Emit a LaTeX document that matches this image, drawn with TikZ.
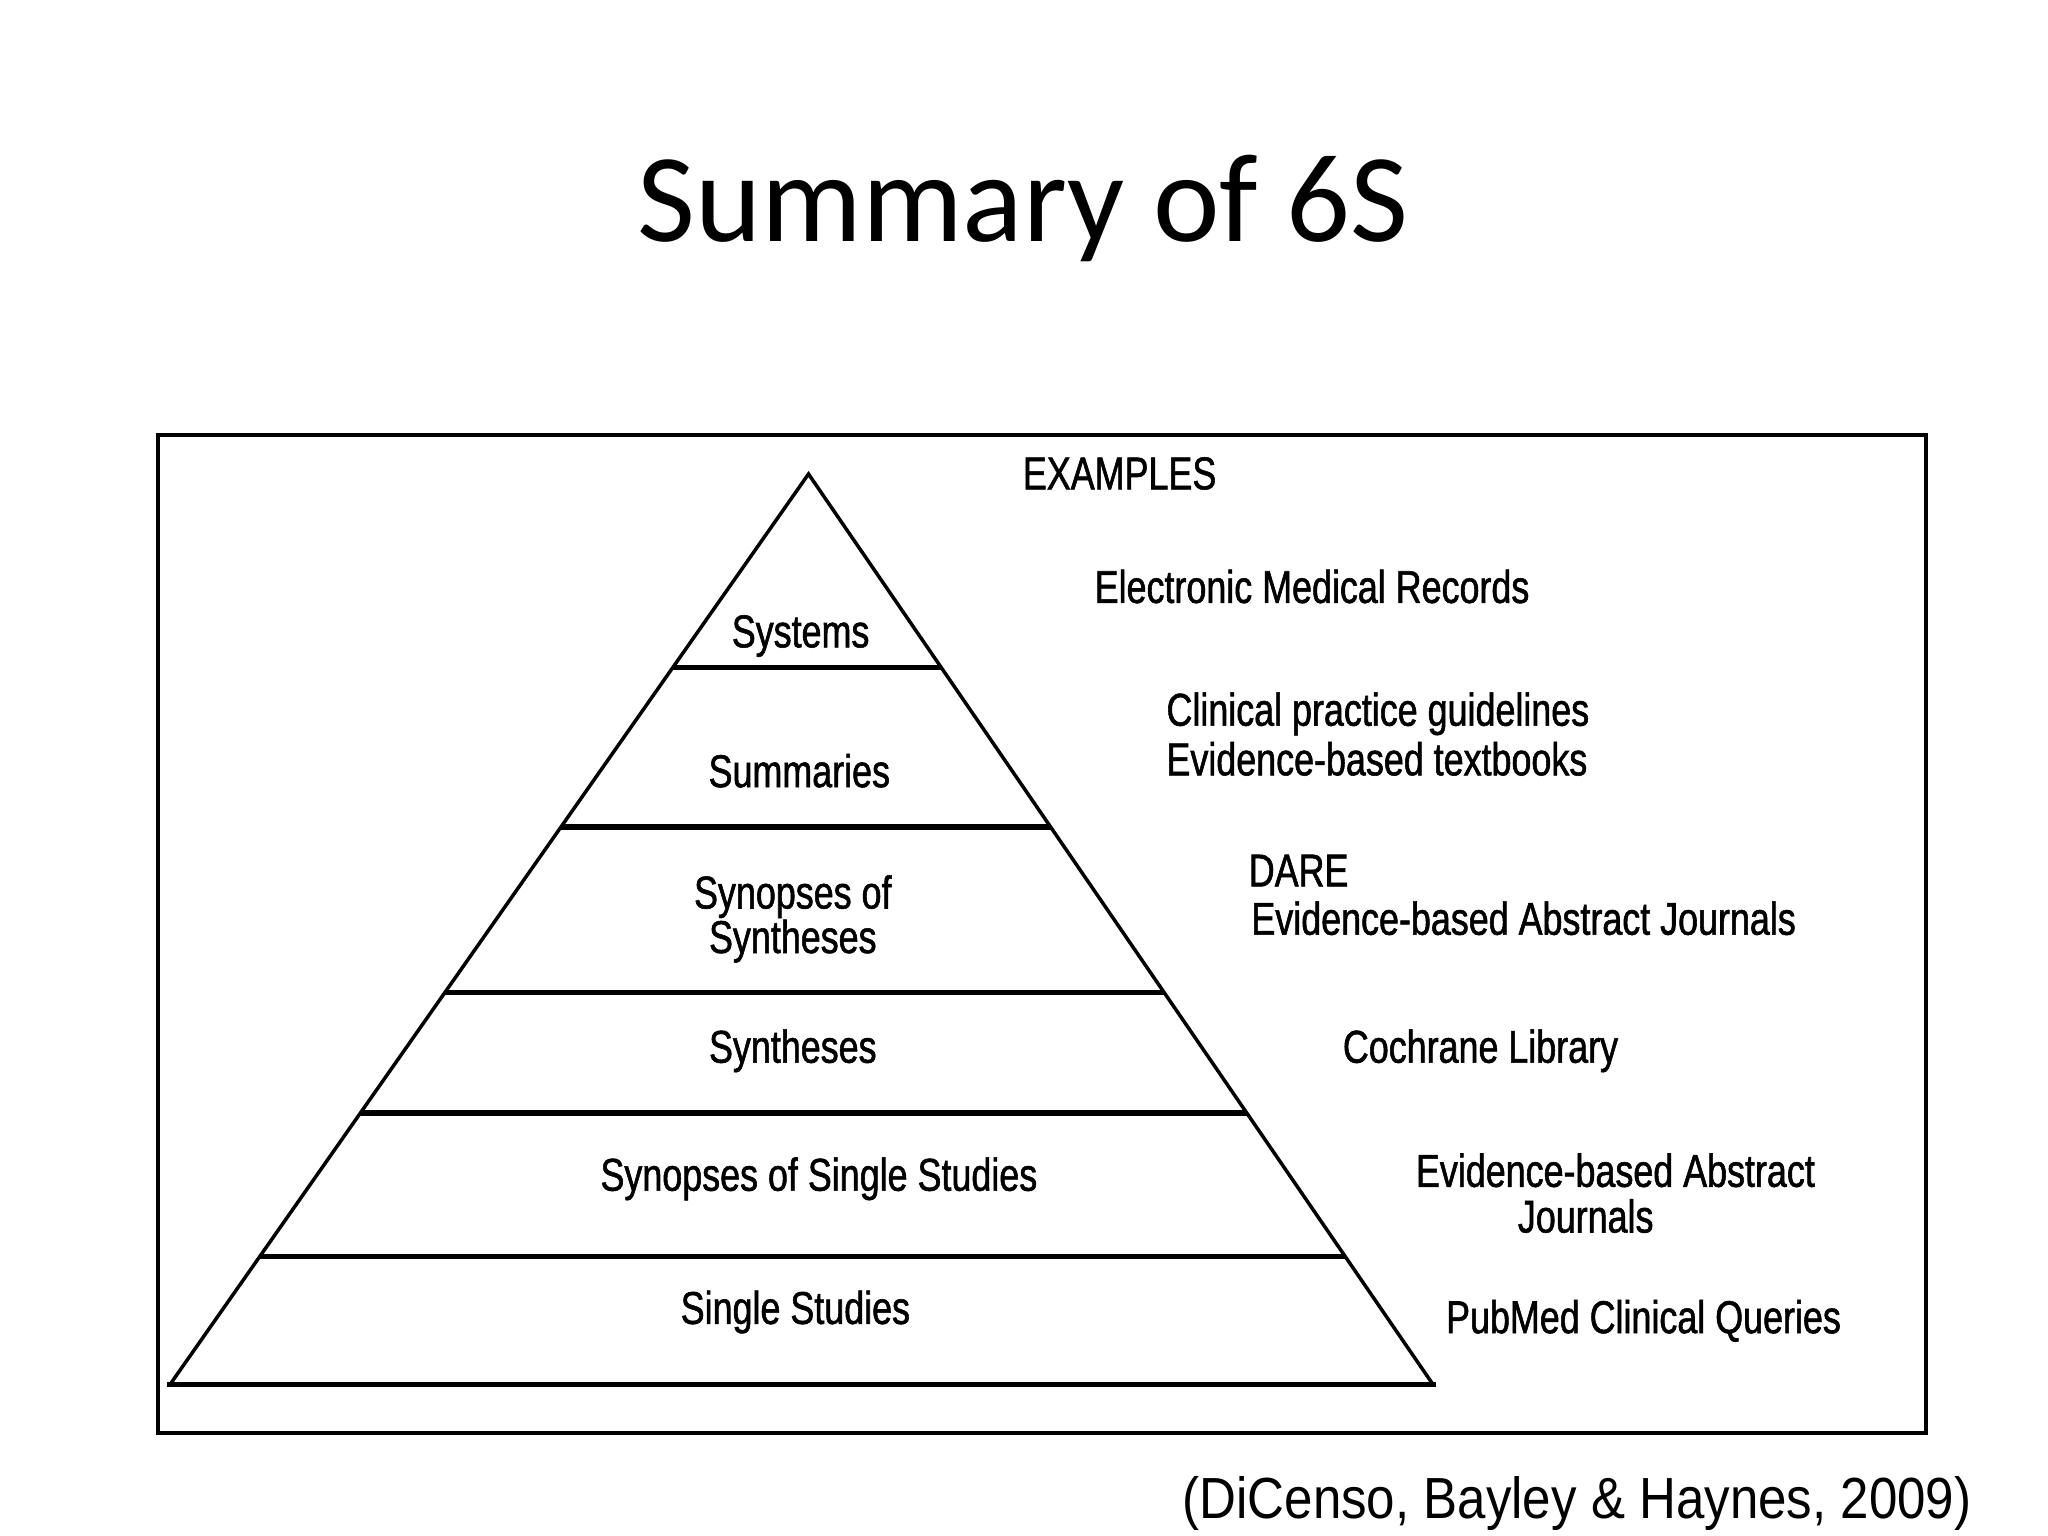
\documentclass[tikz,border=0pt]{standalone}
\usepackage{fontspec}
\setmainfont{Carlito}
\newfontfamily\narrowfont[FakeStretch=0.78,FakeBold=1.2]{Liberation Sans}
\newfontfamily\citefont[FakeStretch=0.88]{Liberation Sans}
\usetikzlibrary{calc}
\begin{document}
\begin{tikzpicture}[x=1pt,y=-1pt,
  lbl/.style={inner sep=0pt,text height=33pt,text depth=0pt,font=\narrowfont\fontsize{46}{50}\selectfont},
  lblw/.style={lbl,anchor=west},
  tier/.style={line width=5.5pt},
  side/.style={line width=3.5pt,line join=miter}]
\useasboundingbox (0,0) rectangle (2048,1536);
\fill[white] (0,0) rectangle (2048,1536);
% title
\node[inner sep=0pt,text height=81pt,text depth=0pt,font=\fontsize{126}{134}\selectfont] (title) at (1023,200.5) {Summary of 6S};
% frame
\draw[line width=4pt] (158,435) rectangle (1926,1433);
% pyramid
\coordinate (apex) at (808.5,474);
\coordinate (bl) at (170,1384.5);
\coordinate (br) at (1433,1384.5);
\draw[side] (bl) -- (apex) -- (br);
\draw[tier,line cap=rect] (bl) -- (br);
\foreach \t/\n in {0.2124/a,0.3875/b,0.5696/c,0.7016/d,0.8594/e}{
  \coordinate (l\n) at ($(apex)!\t!(bl)$);
  \coordinate (r\n) at ($(apex)!\t!(br)$);
  \draw[tier] (l\n) -- (r\n);
}
% tier labels
\node[lbl] (systems) at (800.6,630.8) {Systems};
\node[lbl] (summaries) at (799.3,770.6) {Summaries};
\node[lbl] (synsyn1) at (792.8,892) {Synopses of};
\node[lbl] (synsyn2) at (792.8,936.5) {Syntheses};
\node[lbl] (syntheses) at (792.8,1046.2) {Syntheses};
\node[lbl] (synsingle) at (818.9,1174.2) {Synopses of Single Studies};
\node[lbl] (single) at (795.4,1307.4) {Single Studies};
% examples
\node[lblw] (examples) at (1022.7,472.8) {EXAMPLES};
\node[lblw] (emr) at (1094.5,586.4) {Electronic Medical Records};
\node[lblw] (cpg) at (1166.3,709.2) {Clinical practice guidelines};
\node[lblw] (ebt) at (1166.3,758.8) {Evidence-based textbooks};
\node[lblw] (dare) at (1248.6,869.9) {DARE};
\node[lblw] (ebaj) at (1251.2,918.2) {Evidence-based Abstract Journals};
\node[lblw] (cochrane) at (1342.7,1046.2) {Cochrane Library};
\node[lblw] (eba2) at (1415.8,1170.3) {Evidence-based Abstract};
\node[lblw] (journals) at (1517.7,1216) {Journals};
\node[lblw] (pubmed) at (1445.9,1316.6) {PubMed Clinical Queries};
% citation
\node[inner sep=0pt,text height=41.5pt,text depth=0pt,font=\citefont\fontsize{58}{62}\selectfont] (cite) at (1577,1498) {(DiCenso, Bayley \& Haynes, 2009)};
\end{tikzpicture}
\end{document}
